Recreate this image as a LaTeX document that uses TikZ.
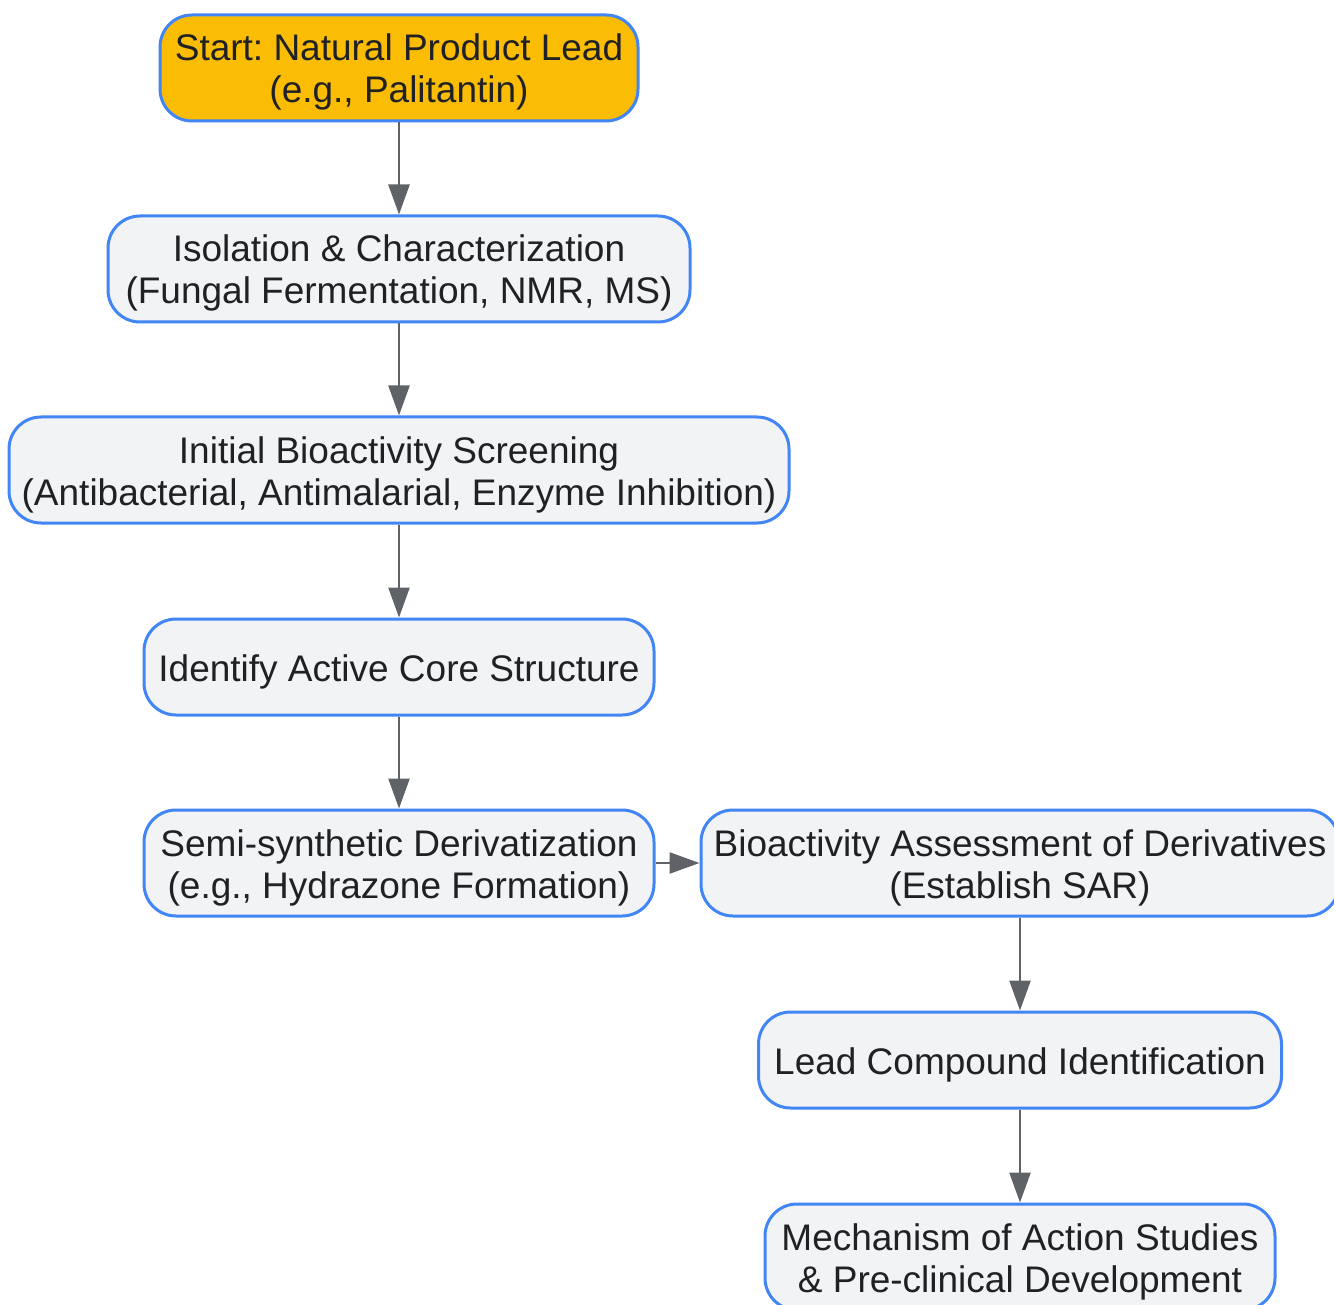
\documentclass[tikz,border=0pt]{standalone}
\usepackage{fontspec}
\setmainfont{Liberation Sans}
\usetikzlibrary{arrows.meta}
\definecolor{nodeblue}{HTML}{4285F4}
\definecolor{startfill}{HTML}{FBBC04}
\definecolor{boxfill}{HTML}{F1F3F4}
\definecolor{arrowgray}{HTML}{5F6368}
\definecolor{txt}{HTML}{202124}
\frenchspacing
\begin{document}
\begin{tikzpicture}[x=1pt,y=-1pt,
  box/.style={draw=nodeblue, line width=3pt, fill=boxfill, rounded corners=32pt,
    text=txt, font=\fontsize{37}{42}\selectfont, align=center, inner sep=0pt,
    execute at begin node={\rule{0pt}{37pt}}},
  twoline/.style={text height=78pt, text depth=8pt},
  arr/.style={draw=arrowgray, line width=2.5pt, -{Triangle[length=30pt,width=21pt]}}]
\useasboundingbox (0,0) rectangle (1334,1305);
\clip (0,0) rectangle (1334,1305);
\node[box, twoline, fill=startfill, minimum width=478pt, minimum height=106pt] (start) at (399,68)
  {Start: Natural Product Lead\\(e.g., Palitantin)};
\node[box, twoline, minimum width=582pt, minimum height=106pt] (iso) at (399,269)
  {Isolation \& Characterization\\(Fungal Fermentation, NMR, MS)};
\node[box, twoline, minimum width=780pt, minimum height=106pt] (screen) at (399,470)
  {Initial Bioactivity Screening\\(Antibacterial, Antimalarial, Enzyme Inhibition)};
\node[box, minimum width=510pt, minimum height=96pt] (core) at (399,667)
  {Identify Active Core Structure};
\node[box, twoline, minimum width=510pt, minimum height=106pt] (semi) at (399,863)
  {Semi-synthetic Derivatization\\(e.g., Hydrazone Formation)};
\node[box, twoline, minimum width=638pt, minimum height=106pt] (assess) at (1020,863)
  {Bioactivity Assessment of Derivatives\\(Establish SAR)};
\node[box, minimum width=523pt, minimum height=96pt] (lead) at (1020,1060)
  {Lead Compound Identification};
\node[box, twoline, minimum width=510pt, minimum height=106pt] (moa) at (1020,1257)
  {Mechanism of Action Studies\\\& Pre-clinical Development};
\draw[arr] (start) -- (iso);
\draw[arr] (iso) -- (screen);
\draw[arr] (screen) -- (core);
\draw[arr] (core) -- (semi);
\draw[arr] (semi) -- (assess);
\draw[arr] (assess.south -| lead.north) -- (lead);
\draw[arr] (lead) -- (moa);
\end{tikzpicture}
\end{document}
